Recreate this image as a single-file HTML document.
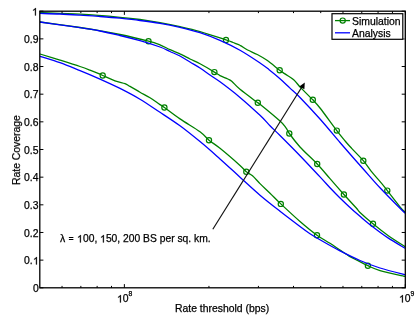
<!DOCTYPE html>
<html><head><meta charset="utf-8"><title>Rate Coverage</title>
<style>
html,body{margin:0;padding:0;background:#fff;}
body{width:415px;height:321px;position:relative;overflow:hidden;font-family:"Liberation Sans",sans-serif;font-size:10.4px;color:#000;}
div{position:absolute;white-space:nowrap;line-height:12px;will-change:transform;-webkit-text-stroke:0.25px #000;}
.yt{right:376.6px;text-align:right;}
svg.one{width:0.556em;height:0.719em;vertical-align:baseline;fill:#000;stroke:#000;stroke-width:50;display:inline-block;overflow:visible;}
sup{font-size:6.8px;position:relative;top:-1.6px;vertical-align:4px;line-height:0;}
</style></head><body>
<svg width="415" height="321" viewBox="0 0 415 321" style="position:absolute;left:0;top:0">
<rect width="415" height="321" fill="#fff"/>
<clipPath id="c"><rect x="39.8" y="11.2" width="365.5" height="276.6"/></clipPath>
<g clip-path="url(#c)" fill="none" stroke-width="1.3" stroke-linejoin="round">
<path d="M40.0,12.5C46.7,12.8 66.7,13.4 80.0,14.2C93.3,15.0 110.0,16.4 120.0,17.3C130.0,18.2 133.3,18.6 140.0,19.5C146.7,20.4 153.3,21.5 160.0,22.7C166.7,23.9 173.3,25.2 180.0,26.7C186.7,28.2 192.3,29.4 200.0,31.6C207.7,33.8 220.5,38.1 226.0,39.9C231.5,41.7 230.7,41.6 233.0,42.5C235.3,43.4 237.6,44.0 240.0,45.3C242.4,46.5 244.7,48.5 247.6,50.0C250.5,51.5 254.1,52.8 257.3,54.5C260.5,56.2 263.3,57.7 267.0,60.3C270.7,62.9 276.7,68.0 279.7,70.3C282.7,72.6 282.7,72.3 285.0,73.9C287.3,75.5 291.1,77.4 293.7,79.7C296.3,82.0 297.7,84.6 300.9,87.9C304.1,91.2 309.6,96.5 312.8,99.8C316.0,103.1 316.0,102.9 320.0,108.0C324.0,113.1 332.6,125.1 336.8,130.6C341.0,136.1 342.6,138.0 345.1,141.0C347.6,144.0 348.9,145.3 351.9,148.6C354.9,151.9 360.1,156.9 363.3,160.7C366.5,164.5 368.3,167.6 371.3,171.3C374.3,175.0 378.7,179.9 381.4,183.1C384.1,186.3 384.2,186.6 387.3,190.6C390.4,194.6 397.1,203.2 400.0,206.8C402.9,210.4 404.2,211.1 405.0,212.0" stroke="#008000"/>
<path d="M40.0,22.0C46.7,22.9 70.0,26.0 80.0,27.5C90.0,29.0 93.3,29.6 100.0,30.8C106.7,32.0 111.9,32.8 120.0,34.5C128.1,36.2 141.8,39.5 148.5,41.2C155.2,42.9 156.4,43.5 160.0,44.9C163.6,46.3 166.7,48.2 170.0,49.7C173.3,51.2 176.7,52.2 180.0,53.8C183.3,55.3 186.7,57.3 190.0,59.0C193.3,60.7 195.9,61.6 200.0,63.8C204.1,66.0 211.1,70.1 214.4,72.1C217.7,74.1 217.8,74.4 220.0,75.6C222.2,76.8 225.8,78.0 227.8,79.0C229.8,80.0 230.0,79.8 232.0,81.5C234.0,83.2 235.7,85.8 240.0,89.3C244.3,92.8 254.5,100.3 257.8,102.8C261.1,105.3 256.3,101.2 260.0,104.3C263.7,107.3 275.7,117.2 280.0,121.1C284.3,125.0 284.4,125.7 286.0,127.8C287.6,129.9 287.0,130.3 289.3,133.5C291.6,136.7 295.4,141.9 300.0,147.0C304.6,152.1 312.2,158.7 317.2,164.0C322.2,169.3 325.6,173.6 330.0,178.7C334.4,183.8 339.5,189.6 343.9,194.5C348.3,199.4 353.6,205.0 356.3,208.0C359.0,211.0 357.2,209.8 360.0,212.4C362.8,215.0 368.3,220.0 373.0,223.8C377.7,227.7 382.7,231.7 388.0,235.5C393.3,239.3 402.2,244.8 405.0,246.6" stroke="#008000"/>
<path d="M40.0,54.0C43.3,55.0 53.3,58.0 60.0,60.1C66.7,62.2 75.0,64.8 80.0,66.5C85.0,68.2 86.7,68.9 90.0,70.2C93.3,71.5 97.9,73.3 100.0,74.2C102.1,75.1 100.2,74.4 102.7,75.5C105.2,76.6 111.3,79.4 115.0,80.8C118.7,82.2 122.5,82.8 125.0,83.7C127.5,84.6 127.5,85.0 130.0,86.4C132.5,87.8 136.7,90.3 140.0,92.2C143.3,94.1 146.7,95.7 150.0,97.8C153.3,99.9 157.6,103.0 160.0,104.6C162.4,106.2 161.1,105.1 164.4,107.5C167.7,109.9 174.1,114.9 180.0,118.9C185.9,123.0 195.2,128.2 200.0,131.8C204.8,135.4 205.7,137.4 209.0,140.2C212.3,142.9 214.8,144.1 220.0,148.3C225.2,152.5 235.6,161.5 240.0,165.4C244.4,169.3 244.2,170.1 246.3,171.8C248.4,173.5 250.2,173.8 252.5,175.8C254.8,177.8 257.1,180.7 260.0,183.6C262.9,186.5 266.5,189.8 270.0,193.2C273.5,196.6 275.8,199.2 280.8,203.9C285.8,208.6 294.0,216.3 300.0,221.5C306.0,226.7 312.0,231.6 317.0,235.2C322.0,238.8 326.2,240.8 330.0,243.3C333.8,245.8 336.7,247.8 340.0,250.0C343.3,252.2 347.0,254.8 350.0,256.6C353.0,258.4 355.0,259.2 358.0,260.7C361.0,262.2 364.2,264.0 367.9,265.7C371.6,267.4 373.8,268.8 380.0,270.6C386.2,272.4 400.8,275.4 405.0,276.4" stroke="#008000"/>
<circle cx="226" cy="39.9" r="2.6" stroke="#008000" stroke-width="1.2"/>
<circle cx="279.7" cy="70.3" r="2.6" stroke="#008000" stroke-width="1.2"/>
<circle cx="312.8" cy="99.8" r="2.6" stroke="#008000" stroke-width="1.2"/>
<circle cx="336.8" cy="130.6" r="2.6" stroke="#008000" stroke-width="1.2"/>
<circle cx="363.3" cy="160.7" r="2.6" stroke="#008000" stroke-width="1.2"/>
<circle cx="387.3" cy="190.6" r="2.6" stroke="#008000" stroke-width="1.2"/>
<circle cx="148.5" cy="41.2" r="2.6" stroke="#008000" stroke-width="1.2"/>
<circle cx="214.4" cy="72.1" r="2.6" stroke="#008000" stroke-width="1.2"/>
<circle cx="257.8" cy="102.8" r="2.6" stroke="#008000" stroke-width="1.2"/>
<circle cx="289.3" cy="133.5" r="2.6" stroke="#008000" stroke-width="1.2"/>
<circle cx="317.2" cy="164" r="2.6" stroke="#008000" stroke-width="1.2"/>
<circle cx="343.9" cy="194.5" r="2.6" stroke="#008000" stroke-width="1.2"/>
<circle cx="373" cy="223.8" r="2.6" stroke="#008000" stroke-width="1.2"/>
<circle cx="102.7" cy="75.5" r="2.6" stroke="#008000" stroke-width="1.2"/>
<circle cx="164.4" cy="107.5" r="2.6" stroke="#008000" stroke-width="1.2"/>
<circle cx="209" cy="140.2" r="2.6" stroke="#008000" stroke-width="1.2"/>
<circle cx="246.3" cy="171.8" r="2.6" stroke="#008000" stroke-width="1.2"/>
<circle cx="280.8" cy="203.9" r="2.6" stroke="#008000" stroke-width="1.2"/>
<circle cx="317" cy="235.2" r="2.6" stroke="#008000" stroke-width="1.2"/>
<circle cx="367.9" cy="265.7" r="2.6" stroke="#008000" stroke-width="1.2"/>
<path d="M40.0,13.4C43.3,13.5 53.3,13.7 60.0,14.0C66.7,14.3 73.3,14.7 80.0,15.1C86.7,15.5 93.3,16.0 100.0,16.5C106.7,17.0 113.3,17.5 120.0,18.2C126.7,18.9 133.3,19.6 140.0,20.5C146.7,21.4 153.3,22.3 160.0,23.4C166.7,24.5 173.3,25.8 180.0,27.3C186.7,28.9 193.3,30.5 200.0,32.7C206.7,34.9 213.3,37.5 220.0,40.4C226.7,43.3 233.3,46.5 240.0,50.3C246.7,54.1 255.2,59.8 260.0,63.0C264.8,66.2 265.5,66.8 268.8,69.4C272.1,72.0 276.5,75.6 280.0,78.7C283.5,81.8 286.7,85.0 290.0,88.1C293.3,91.2 295.0,92.3 300.0,97.5C305.0,102.7 313.3,111.5 320.0,119.0C326.7,126.5 335.0,136.7 340.0,142.5C345.0,148.3 346.1,149.5 350.0,154.0C353.9,158.5 358.7,163.9 363.7,169.5C368.7,175.1 373.9,181.3 380.0,187.8C386.1,194.3 395.8,204.1 400.0,208.3C404.2,212.5 404.2,212.4 405.0,213.2" stroke="#0000ff"/>
<path d="M40.0,22.0C43.3,22.5 53.3,23.9 60.0,24.9C66.7,25.8 73.3,26.7 80.0,27.7C86.7,28.7 93.3,29.7 100.0,31.0C106.7,32.3 113.3,33.9 120.0,35.5C126.7,37.1 133.3,38.8 140.0,40.7C146.7,42.6 155.0,45.2 160.0,47.0C165.0,48.8 166.7,50.0 170.0,51.5C173.3,53.0 176.7,54.2 180.0,56.0C183.3,57.8 186.7,60.0 190.0,62.0C193.3,64.0 196.7,65.8 200.0,68.0C203.3,70.2 206.7,72.7 210.0,75.0C213.3,77.3 215.0,78.1 220.0,81.8C225.0,85.5 233.3,91.8 240.0,97.4C246.7,103.0 255.0,110.6 260.0,115.3C265.0,120.0 266.7,122.3 270.0,125.7C273.3,129.1 275.0,130.5 280.0,135.5C285.0,140.5 293.3,148.8 300.0,155.7C306.7,162.6 315.0,171.6 320.0,176.9C325.0,182.2 326.7,184.3 330.0,187.8C333.3,191.3 336.6,194.7 340.0,198.0C343.4,201.3 347.0,204.8 350.3,207.8C353.6,210.9 356.2,213.1 360.0,216.3C363.8,219.5 368.3,223.4 373.0,227.0C377.7,230.6 382.7,234.4 388.0,237.9C393.3,241.4 402.2,246.5 405.0,248.2" stroke="#0000ff"/>
<path d="M40.0,56.3C43.3,57.4 53.3,60.3 60.0,62.7C66.7,65.1 73.3,67.9 80.0,70.6C86.7,73.3 93.3,76.1 100.0,79.1C106.7,82.1 113.3,85.1 120.0,88.4C126.7,91.8 133.3,95.2 140.0,99.2C146.7,103.2 153.3,107.9 160.0,112.3C166.7,116.7 173.3,120.9 180.0,125.8C186.7,130.7 193.3,136.1 200.0,141.6C206.7,147.1 213.3,153.0 220.0,158.9C226.7,164.8 233.3,171.1 240.0,177.2C246.7,183.2 253.3,189.5 260.0,195.2C266.7,200.9 273.3,206.0 280.0,211.2C286.7,216.4 295.0,222.8 300.0,226.6C305.0,230.4 306.7,231.6 310.0,233.8C313.3,236.0 315.0,237.0 320.0,239.8C325.0,242.7 333.3,247.5 340.0,250.9C346.7,254.3 353.3,257.6 360.0,260.5C366.7,263.4 372.5,265.6 380.0,268.0C387.5,270.4 400.8,273.7 405.0,274.8" stroke="#0000ff"/>
</g>
<rect x="39.8" y="11.2" width="365.5" height="276.6" fill="none" stroke="#000" stroke-width="1.3"/>
<path d="M39.8,287.80h3.6M405.3,287.80h-3.6M39.8,260.14h3.6M405.3,260.14h-3.6M39.8,232.48h3.6M405.3,232.48h-3.6M39.8,204.82h3.6M405.3,204.82h-3.6M39.8,177.16h3.6M405.3,177.16h-3.6M39.8,149.50h3.6M405.3,149.50h-3.6M39.8,121.84h3.6M405.3,121.84h-3.6M39.8,94.18h3.6M405.3,94.18h-3.6M39.8,66.52h3.6M405.3,66.52h-3.6M39.8,38.86h3.6M405.3,38.86h-3.6M39.8,11.20h3.6M405.3,11.20h-3.6M62.04,287.8v-1.9M62.04,11.2v1.9M80.85,287.8v-1.9M80.85,11.2v1.9M97.14,287.8v-1.9M97.14,11.2v1.9M111.51,287.8v-1.9M111.51,11.2v1.9M208.94,287.8v-1.9M208.94,11.2v1.9M258.41,287.8v-1.9M258.41,11.2v1.9M293.51,287.8v-1.9M293.51,11.2v1.9M320.73,287.8v-1.9M320.73,11.2v1.9M342.98,287.8v-1.9M342.98,11.2v1.9M361.78,287.8v-1.9M361.78,11.2v1.9M378.07,287.8v-1.9M378.07,11.2v1.9M392.45,287.8v-1.9M392.45,11.2v1.9M124.37,287.8v-3.7M124.37,11.2v3.7M405.30,287.8v-3.7M405.30,11.2v3.7" stroke="#000" stroke-width="1" fill="none"/>
<path d="M212.8,229.3L302.5,86" stroke="#111" stroke-width="1.2" fill="none"/>
<path d="M304.8,82.4L299.3,86.6L304.4,89.2Z" fill="#000"/>
<rect x="332" y="13.7" width="70.8" height="25.6" fill="#fff" stroke="#000" stroke-width="1.2"/><path d="M404.1,13.2V39.5" stroke="#999" stroke-width="1"/>
<path d="M335,20.6H350" stroke="#008000" stroke-width="1.3"/><circle cx="342.7" cy="20.6" r="2.6" fill="none" stroke="#008000" stroke-width="1.2"/>
<path d="M335,32.8H350" stroke="#0000ff" stroke-width="1.3"/>
</svg>
<div class="yt" style="top:282.8px">0</div><div class="yt" style="top:255.1px">0.<svg class="one" viewBox="0 -1472 1139 1472"><path d="M763,0H583V-1147Q518,-1085 412.5,-1023Q307,-961 223,-930V-1104Q374,-1175 487,-1276Q600,-1377 647,-1472H763Z"/></svg></div><div class="yt" style="top:227.5px">0.2</div><div class="yt" style="top:199.8px">0.3</div><div class="yt" style="top:172.2px">0.4</div><div class="yt" style="top:144.5px">0.5</div><div class="yt" style="top:116.8px">0.6</div><div class="yt" style="top:89.2px">0.7</div><div class="yt" style="top:61.5px">0.8</div><div class="yt" style="top:33.9px">0.9</div><div class="yt" style="top:6.2px;right:377.3px"><svg class="one" viewBox="0 -1472 1139 1472"><path d="M763,0H583V-1147Q518,-1085 412.5,-1023Q307,-961 223,-930V-1104Q374,-1175 487,-1276Q600,-1377 647,-1472H763Z"/></svg></div>
<div style="left:117px;top:293.4px"><svg class="one" viewBox="0 -1472 1139 1472"><path d="M763,0H583V-1147Q518,-1085 412.5,-1023Q307,-961 223,-930V-1104Q374,-1175 487,-1276Q600,-1377 647,-1472H763Z"/></svg>0<sup>8</sup></div>
<div style="left:399.3px;top:293.4px"><svg class="one" viewBox="0 -1472 1139 1472"><path d="M763,0H583V-1147Q518,-1085 412.5,-1023Q307,-961 223,-930V-1104Q374,-1175 487,-1276Q600,-1377 647,-1472H763Z"/></svg>0<sup>9</sup></div>
<div style="left:175px;top:303.3px">Rate threshold (bps)</div>
<div style="left:60.2px;top:232.5px;font-size:10.3px"><span style="font-size:10.4px;word-spacing:0.5px">λ <span style="font-size:9px;font-weight:bold;-webkit-text-stroke:0;position:relative;top:0.1px">=</span> </span><svg class="one" viewBox="0 -1472 1139 1472"><path d="M763,0H583V-1147Q518,-1085 412.5,-1023Q307,-961 223,-930V-1104Q374,-1175 487,-1276Q600,-1377 647,-1472H763Z"/></svg>00, <svg class="one" viewBox="0 -1472 1139 1472"><path d="M763,0H583V-1147Q518,-1085 412.5,-1023Q307,-961 223,-930V-1104Q374,-1175 487,-1276Q600,-1377 647,-1472H763Z"/></svg>50, 200 BS per sq. km.</div>
<div style="left:352px;top:16px">Simulation</div>
<div style="left:352px;top:28px">Analysis</div>
<div style="left:11px;top:150px;width:0;height:0;overflow:visible"><div style="transform:translate(-50%,-50%) rotate(-90deg);left:6px;top:0">Rate Coverage</div></div>
</body></html>
